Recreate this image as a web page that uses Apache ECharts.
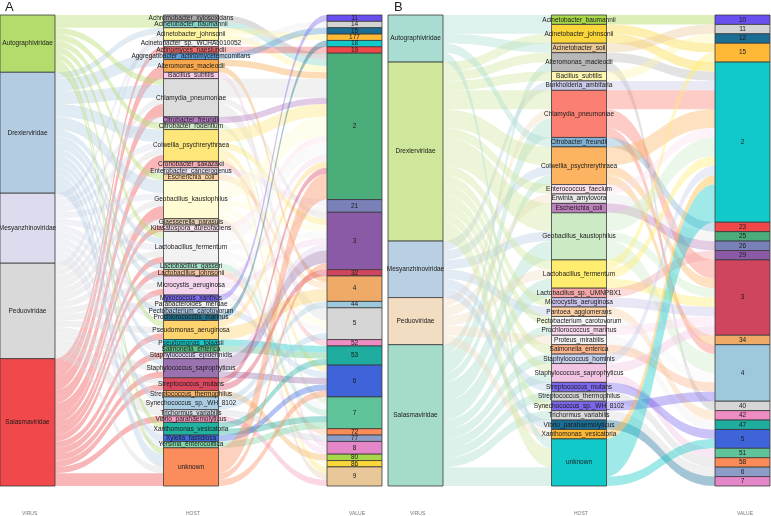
<!DOCTYPE html>
<html>
<head>
<meta charset="utf-8">
<script src="https://cdn.jsdelivr.net/npm/echarts@6/dist/echarts.min.js"></script>
<style>
  html, body { margin: 0; padding: 0; background: #fff; }
  #chart { width: 771px; height: 516px; }
</style>
</head>
<body>
<div id="chart"></div>
<script>
// ---- panel A data ----
const virusA = ["Autographiviridae", "Drexlerviridae", "Mesyanzhinoviridae", "Peduoviridae", "Salasmaviridae"];
const hostsA = ["Achromobacter_xylosoxidans", "Acinetobacter_baumannii", "Acinetobacter_johnsonii", "Acinetobacter_sp._WCHAc010052",
  "Actinomyces_naeslundii", "Aggregatibacter_actinomycetemcomitans", "Alteromonas_macleodii", "Bacillus_subtilis",
  "Chlamydia_pneumoniae", "Citrobacter_freundii", "Citrobacter_rodentium", "Colwellia_psychrerythraea",
  "Cronobacter_sakazakii", "Enterobacter_cancerogenus", "Escherichia_coli", "Geobacillus_kaustophilus",
  "Glaesserella_parasuis", "Kitasatospora_aureofaciens", "Lactobacillus_fermentum", "Lactobacillus_gasseri",
  "Lactobacillus_johnsonii", "Microcystis_aeruginosa", "Myxococcus_xanthus", "Parabacteroides_merdae",
  "Pectobacterium_carotovorum", "Prochlorococcus_marinus", "Pseudomonas_aeruginosa", "Pseudomonas_tolaasii",
  "Salmonella_enterica", "Staphylococcus_epidermidis", "Staphylococcus_saprophyticus", "Streptococcus_mutans",
  "Streptococcus_thermophilus", "Synechococcus_sp._WH_8102", "Trichormus_variabilis", "Vibrio_parahaemolyticus",
  "Xanthomonas_vesicatoria", "Xylella_fastidiosa", "Yersinia_enterocolitica", "unknown"];
const valuesA = ["11", "14", "15", "177", "18", "19", "2", "21", "3", "32", "4", "44", "5", "52", "53", "6", "7", "72", "77", "8", "80", "86", "9"];

// [virus, host, count]
const virusHostA = [
  ["Autographiviridae", "Achromobacter_xylosoxidans", 1], ["Autographiviridae", "Acinetobacter_baumannii", 1],
  ["Drexlerviridae", "Acinetobacter_johnsonii", 1], ["Peduoviridae", "Acinetobacter_johnsonii", 1],
  ["Mesyanzhinoviridae", "Acinetobacter_sp._WCHAc010052", 1], ["Salasmaviridae", "Actinomyces_naeslundii", 1],
  ["Drexlerviridae", "Aggregatibacter_actinomycetemcomitans", 1],
  ["Drexlerviridae", "Alteromonas_macleodii", 1], ["Salasmaviridae", "Alteromonas_macleodii", 1],
  ["Salasmaviridae", "Bacillus_subtilis", 1],
  ["Autographiviridae", "Chlamydia_pneumoniae", 1], ["Drexlerviridae", "Chlamydia_pneumoniae", 2],
  ["Peduoviridae", "Chlamydia_pneumoniae", 1], ["Salasmaviridae", "Chlamydia_pneumoniae", 2],
  ["Mesyanzhinoviridae", "Citrobacter_freundii", 1], ["Autographiviridae", "Citrobacter_rodentium", 1],
  ["Drexlerviridae", "Colwellia_psychrerythraea", 2], ["Mesyanzhinoviridae", "Colwellia_psychrerythraea", 1],
  ["Peduoviridae", "Colwellia_psychrerythraea", 1], ["Salasmaviridae", "Colwellia_psychrerythraea", 1],
  ["Salasmaviridae", "Cronobacter_sakazakii", 1], ["Peduoviridae", "Enterobacter_cancerogenus", 1],
  ["Autographiviridae", "Escherichia_coli", 1],
  ["Drexlerviridae", "Geobacillus_kaustophilus", 2], ["Mesyanzhinoviridae", "Geobacillus_kaustophilus", 1],
  ["Peduoviridae", "Geobacillus_kaustophilus", 1], ["Salasmaviridae", "Geobacillus_kaustophilus", 2],
  ["Peduoviridae", "Glaesserella_parasuis", 1], ["Salasmaviridae", "Kitasatospora_aureofaciens", 1],
  ["Autographiviridae", "Lactobacillus_fermentum", 1], ["Drexlerviridae", "Lactobacillus_fermentum", 1],
  ["Mesyanzhinoviridae", "Lactobacillus_fermentum", 1], ["Peduoviridae", "Lactobacillus_fermentum", 1],
  ["Salasmaviridae", "Lactobacillus_fermentum", 1],
  ["Drexlerviridae", "Lactobacillus_gasseri", 1], ["Salasmaviridae", "Lactobacillus_johnsonii", 1],
  ["Drexlerviridae", "Microcystis_aeruginosa", 1], ["Peduoviridae", "Microcystis_aeruginosa", 1],
  ["Salasmaviridae", "Microcystis_aeruginosa", 1],
  ["Mesyanzhinoviridae", "Myxococcus_xanthus", 1], ["Peduoviridae", "Parabacteroides_merdae", 1],
  ["Drexlerviridae", "Pectobacterium_carotovorum", 1], ["Mesyanzhinoviridae", "Prochlorococcus_marinus", 1],
  ["Autographiviridae", "Pseudomonas_aeruginosa", 1], ["Peduoviridae", "Pseudomonas_aeruginosa", 1],
  ["Salasmaviridae", "Pseudomonas_aeruginosa", 1],
  ["Drexlerviridae", "Pseudomonas_tolaasii", 1], ["Mesyanzhinoviridae", "Salmonella_enterica", 1],
  ["Salasmaviridae", "Staphylococcus_epidermidis", 1],
  ["Drexlerviridae", "Staphylococcus_saprophyticus", 1], ["Peduoviridae", "Staphylococcus_saprophyticus", 1],
  ["Salasmaviridae", "Staphylococcus_saprophyticus", 1],
  ["Peduoviridae", "Streptococcus_mutans", 1], ["Salasmaviridae", "Streptococcus_mutans", 1],
  ["Mesyanzhinoviridae", "Streptococcus_thermophilus", 1],
  ["Drexlerviridae", "Synechococcus_sp._WH_8102", 1], ["Peduoviridae", "Synechococcus_sp._WH_8102", 1],
  ["Peduoviridae", "Trichormus_variabilis", 1], ["Salasmaviridae", "Vibrio_parahaemolyticus", 1],
  ["Autographiviridae", "Xanthomonas_vesicatoria", 1], ["Mesyanzhinoviridae", "Xanthomonas_vesicatoria", 1],
  ["Drexlerviridae", "Xylella_fastidiosa", 1], ["Mesyanzhinoviridae", "Yersinia_enterocolitica", 1],
  ["Autographiviridae", "unknown", 1], ["Drexlerviridae", "unknown", 2], ["Peduoviridae", "unknown", 1],
  ["Salasmaviridae", "unknown", 2]
];

// [host, value, count]
const hostValueA = [
  ["Achromobacter_xylosoxidans", "2", 1], ["Acinetobacter_baumannii", "2", 1],
  ["Acinetobacter_johnsonii", "2", 1], ["Acinetobacter_johnsonii", "177", 1],
  ["Acinetobacter_sp._WCHAc010052", "14", 1], ["Actinomyces_naeslundii", "19", 1],
  ["Aggregatibacter_actinomycetemcomitans", "15", 1],
  ["Alteromonas_macleodii", "2", 1], ["Alteromonas_macleodii", "4", 1], ["Bacillus_subtilis", "8", 1],
  ["Chlamydia_pneumoniae", "2", 3], ["Chlamydia_pneumoniae", "3", 1], ["Chlamydia_pneumoniae", "5", 2],
  ["Citrobacter_freundii", "2", 1], ["Citrobacter_rodentium", "7", 1],
  ["Colwellia_psychrerythraea", "2", 2], ["Colwellia_psychrerythraea", "3", 1],
  ["Colwellia_psychrerythraea", "6", 1], ["Colwellia_psychrerythraea", "9", 1],
  ["Cronobacter_sakazakii", "52", 1], ["Enterobacter_cancerogenus", "21", 1], ["Escherichia_coli", "4", 1],
  ["Geobacillus_kaustophilus", "2", 3], ["Geobacillus_kaustophilus", "3", 1],
  ["Geobacillus_kaustophilus", "5", 1], ["Geobacillus_kaustophilus", "86", 1],
  ["Glaesserella_parasuis", "9", 1], ["Kitasatospora_aureofaciens", "2", 1],
  ["Lactobacillus_fermentum", "2", 2], ["Lactobacillus_fermentum", "3", 1],
  ["Lactobacillus_fermentum", "5", 1], ["Lactobacillus_fermentum", "7", 1],
  ["Lactobacillus_gasseri", "7", 1], ["Lactobacillus_johnsonii", "72", 1],
  ["Microcystis_aeruginosa", "2", 1], ["Microcystis_aeruginosa", "3", 1], ["Microcystis_aeruginosa", "8", 1],
  ["Myxococcus_xanthus", "11", 1], ["Parabacteroides_merdae", "21", 1], ["Pectobacterium_carotovorum", "6", 1],
  ["Prochlorococcus_marinus", "18", 1],
  ["Pseudomonas_aeruginosa", "2", 1], ["Pseudomonas_aeruginosa", "4", 2],
  ["Pseudomonas_tolaasii", "53", 1], ["Salmonella_enterica", "53", 1], ["Staphylococcus_epidermidis", "3", 1],
  ["Staphylococcus_saprophyticus", "3", 2], ["Staphylococcus_saprophyticus", "6", 1],
  ["Streptococcus_mutans", "2", 1], ["Streptococcus_mutans", "32", 1],
  ["Streptococcus_thermophilus", "80", 1],
  ["Synechococcus_sp._WH_8102", "44", 1], ["Synechococcus_sp._WH_8102", "5", 1],
  ["Trichormus_variabilis", "77", 1], ["Vibrio_parahaemolyticus", "9", 1],
  ["Xanthomonas_vesicatoria", "53", 1], ["Xanthomonas_vesicatoria", "7", 1],
  ["Xylella_fastidiosa", "6", 1], ["Yersinia_enterocolitica", "7", 1],
  ["unknown", "2", 4], ["unknown", "3", 1], ["unknown", "6", 1]
];

// ---- panel B data ----
const virusB = ["Autographiviridae", "Drexlerviridae", "Mesyanzhinoviridae", "Peduoviridae", "Salasmaviridae"];
const hostsB = ["Acinetobacter_baumannii", "Acinetobacter_johnsonii", "Acinetobacter_soli", "Alteromonas_macleodii",
  "Bacillus_subtilis", "Burkholderia_ambifaria", "Chlamydia_pneumoniae", "Citrobacter_freundii",
  "Colwellia_psychrerythraea", "Enterococcus_faecium", "Erwinia_amylovora", "Escherichia_coli",
  "Geobacillus_kaustophilus", "Lactobacillus_fermentum", "Lactobacillus_sp._UMNPBX1", "Microcystis_aeruginosa",
  "Pantoea_agglomerans", "Pectobacterium_carotovorum", "Prochlorococcus_marinus", "Proteus_mirabilis",
  "Salmonella_enterica", "Staphylococcus_hominis", "Staphylococcus_saprophyticus", "Streptococcus_mutans",
  "Streptococcus_thermophilus", "Synechococcus_sp._WH_8102", "Trichormus_variabilis", "Vibrio_parahaemolyticus",
  "Xanthomonas_vesicatoria", "unknown"];
const valuesB = ["10", "11", "12", "15", "2", "23", "25", "26", "29", "3", "34", "4", "40", "42", "47", "5", "51", "58", "6", "7"];

const virusHostB = [
  ["Autographiviridae", "Acinetobacter_baumannii", 1],
  ["Autographiviridae", "Acinetobacter_johnsonii", 1], ["Drexlerviridae", "Acinetobacter_johnsonii", 1],
  ["Autographiviridae", "Acinetobacter_soli", 1],
  ["Drexlerviridae", "Alteromonas_macleodii", 1], ["Salasmaviridae", "Alteromonas_macleodii", 1],
  ["Drexlerviridae", "Bacillus_subtilis", 1], ["Mesyanzhinoviridae", "Burkholderia_ambifaria", 1],
  ["Drexlerviridae", "Chlamydia_pneumoniae", 2], ["Peduoviridae", "Chlamydia_pneumoniae", 1],
  ["Salasmaviridae", "Chlamydia_pneumoniae", 2],
  ["Autographiviridae", "Citrobacter_freundii", 1],
  ["Drexlerviridae", "Colwellia_psychrerythraea", 2], ["Mesyanzhinoviridae", "Colwellia_psychrerythraea", 1],
  ["Salasmaviridae", "Colwellia_psychrerythraea", 1],
  ["Drexlerviridae", "Enterococcus_faecium", 1], ["Peduoviridae", "Erwinia_amylovora", 1],
  ["Drexlerviridae", "Escherichia_coli", 1],
  ["Drexlerviridae", "Geobacillus_kaustophilus", 2], ["Mesyanzhinoviridae", "Geobacillus_kaustophilus", 1],
  ["Salasmaviridae", "Geobacillus_kaustophilus", 2],
  ["Drexlerviridae", "Lactobacillus_fermentum", 1], ["Peduoviridae", "Lactobacillus_fermentum", 1],
  ["Salasmaviridae", "Lactobacillus_fermentum", 1],
  ["Salasmaviridae", "Lactobacillus_sp._UMNPBX1", 1], ["Drexlerviridae", "Microcystis_aeruginosa", 1],
  ["Mesyanzhinoviridae", "Pantoea_agglomerans", 1], ["Drexlerviridae", "Pectobacterium_carotovorum", 1],
  ["Salasmaviridae", "Prochlorococcus_marinus", 1], ["Peduoviridae", "Proteus_mirabilis", 1],
  ["Drexlerviridae", "Salmonella_enterica", 1], ["Salasmaviridae", "Staphylococcus_hominis", 1],
  ["Drexlerviridae", "Staphylococcus_saprophyticus", 1], ["Salasmaviridae", "Staphylococcus_saprophyticus", 1],
  ["Mesyanzhinoviridae", "Streptococcus_mutans", 1], ["Salasmaviridae", "Streptococcus_thermophilus", 1],
  ["Drexlerviridae", "Synechococcus_sp._WH_8102", 1], ["Salasmaviridae", "Trichormus_variabilis", 1],
  ["Mesyanzhinoviridae", "Vibrio_parahaemolyticus", 1], ["Peduoviridae", "Xanthomonas_vesicatoria", 1],
  ["Autographiviridae", "unknown", 1], ["Drexlerviridae", "unknown", 2], ["Salasmaviridae", "unknown", 2]
];

const hostValueB = [
  ["Acinetobacter_baumannii", "10", 1],
  ["Acinetobacter_johnsonii", "15", 1], ["Acinetobacter_johnsonii", "2", 1],
  ["Acinetobacter_soli", "11", 1],
  ["Alteromonas_macleodii", "2", 1], ["Alteromonas_macleodii", "40", 1],
  ["Bacillus_subtilis", "12", 1], ["Burkholderia_ambifaria", "2", 1],
  ["Chlamydia_pneumoniae", "2", 2], ["Chlamydia_pneumoniae", "3", 2], ["Chlamydia_pneumoniae", "4", 1],
  ["Citrobacter_freundii", "23", 1],
  ["Colwellia_psychrerythraea", "2", 2], ["Colwellia_psychrerythraea", "3", 1],
  ["Colwellia_psychrerythraea", "34", 1],
  ["Enterococcus_faecium", "2", 1], ["Erwinia_amylovora", "25", 1], ["Escherichia_coli", "26", 1],
  ["Geobacillus_kaustophilus", "2", 2], ["Geobacillus_kaustophilus", "3", 1], ["Geobacillus_kaustophilus", "4", 2],
  ["Lactobacillus_fermentum", "2", 1], ["Lactobacillus_fermentum", "3", 1], ["Lactobacillus_fermentum", "15", 1],
  ["Lactobacillus_sp._UMNPBX1", "29", 1], ["Microcystis_aeruginosa", "3", 1], ["Pantoea_agglomerans", "42", 1],
  ["Pectobacterium_carotovorum", "4", 1], ["Prochlorococcus_marinus", "3", 1], ["Proteus_mirabilis", "47", 1],
  ["Salmonella_enterica", "4", 1], ["Staphylococcus_hominis", "2", 1],
  ["Staphylococcus_saprophyticus", "3", 1], ["Staphylococcus_saprophyticus", "51", 1],
  ["Streptococcus_mutans", "5", 1], ["Streptococcus_thermophilus", "58", 1],
  ["Synechococcus_sp._WH_8102", "4", 1], ["Trichormus_variabilis", "6", 1],
  ["Vibrio_parahaemolyticus", "7", 1], ["Xanthomonas_vesicatoria", "2", 1],
  ["unknown", "2", 4], ["unknown", "5", 1]
];

// ---- colours ----
const virusColorsA = ["#b3dc6c", "#b4cce2", "#dcdcee", "#d9d9d9", "#f1494b"];
const virusColorsB = ["#a9ddd2", "#cfe79a", "#b9cfe3", "#f2dcc2", "#a5dcc9"];
const hostColorsA = ["#a9a9a9", "#82d3c6", "#fff5a0", "#eeeeee", "#f26c6e", "#5b9bd5", "#f8a84c", "#f8c8e6",
  "#dcdcdc", "#b57cc4", "#cde8c8", "#fde67a", "#f4a8b2", "#e9e2f2", "#fbd3a0", "#fffbd2",
  "#e6ceb2", "#fbe1ec", "#f2f2f2", "#a6dfc6", "#f4c69e", "#f3d4ec", "#7a68ee", "#ececec",
  "#b9d3ee", "#1f6f8b", "#ffd36e", "#16c8c8", "#5fc48a", "#ddd1ef", "#9b72b0", "#d9475f",
  "#f5b56a", "#a9cce3", "#d1d8e0", "#f59ac0", "#22b2a0", "#4169e1", "#80d6a8", "#fb8c5c"];
const hostColorsB = ["#a8d84a", "#fbd63a", "#e8c898", "#b8b8b8", "#fff6b0", "#c8c8e8", "#fb8072", "#80b1d3",
  "#fdb462", "#fbe0ee", "#e8e8e8", "#bc80bd", "#ccebc5", "#ffed6f", "#f4a6a6", "#c8c0e8",
  "#fdd0a2", "#f5f5f5", "#fbdaf0", "#f0f0f0", "#fbb48c", "#c6cfea", "#f2c4e4", "#7b68ee",
  "#d3d3d3", "#7a66e8", "#d9d9d9", "#1a6e96", "#fdb836", "#12c9c9"];
const palette = ["#6a4ff0", "#d3d3d3", "#1a6e96", "#fdb836", "#12c9c9", "#f04848", "#4aad7a", "#7a80b8",
  "#8b5aa6", "#d0455e", "#eeaa66", "#9ec8dc", "#d6d6d6", "#f08cc4", "#1fad9f", "#3f63d8",
  "#60c49a", "#fb8b58", "#8c9ec8", "#e487c8", "#a8d84a", "#fbd63a", "#e8c898"];

function buildNodes(names, colors) {
  return names.map((n, i) => ({ name: n, itemStyle: { color: colors[i % colors.length] } }));
}

function buildSeries(left, virus, vColors, hosts, hColors, values, vh, hv) {
  const nodes = [].concat(
    buildNodes(virus, vColors),
    buildNodes(hosts, hColors),
    buildNodes(values, palette)
  );
  const links = vh.concat(hv).map((l) => ({ source: l[0], target: l[1], value: l[2] }));
  return {
    type: "sankey",
    left: left,
    top: 15,
    width: 382,
    height: 471,
    nodeWidth: 55,
    nodeGap: 0,
    layoutIterations: 0,
    draggable: false,
    emphasis: { disabled: true },
    data: nodes,
    links: links,
    itemStyle: { borderColor: "#3a3a3a", borderWidth: 0.8 },
    lineStyle: { color: "source", opacity: 0.4, curveness: 0.5 },
    label: {
      position: "inside",
      color: "#1a1a1a",
      fontSize: 6.5,
      fontFamily: "Liberation Sans",
    },
  };
}

const chart = echarts.init(document.getElementById("chart"));
const axisText = (x, t) => ({
  type: "text", left: x, top: 511,
  style: { text: t, fill: "#777", font: "5px Liberation Sans" },
});
chart.setOption({
  animation: false,
  series: [
    buildSeries(0, virusA, virusColorsA, hostsA, hostColorsA, valuesA, virusHostA, hostValueA),
    buildSeries(388, virusB, virusColorsB, hostsB, hostColorsB, valuesB, virusHostB, hostValueB),
  ],
  graphic: [
    { type: "text", left: 5, top: 1, style: { text: "A", fill: "#222", font: "13px Liberation Sans" } },
    { type: "text", left: 394, top: 1, style: { text: "B", fill: "#222", font: "13px Liberation Sans" } },
    axisText(22, "VIRUS"), axisText(186, "HOST"), axisText(349, "VALUE"),
    axisText(410, "VIRUS"), axisText(574, "HOST"), axisText(737, "VALUE"),
  ],
});
</script>
</body>
</html>
